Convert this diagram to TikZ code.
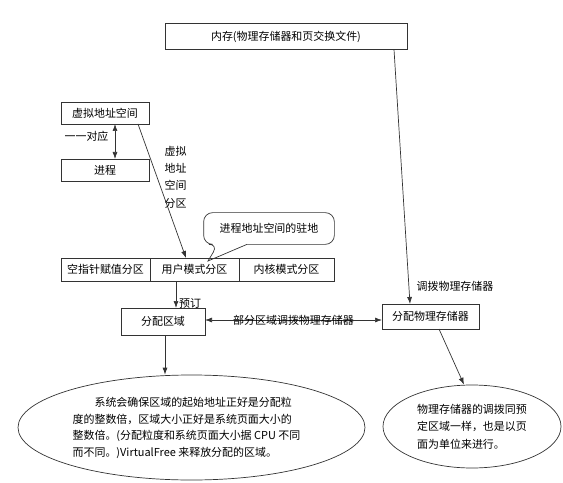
\documentclass[tikz,border=0pt]{standalone}
\usepackage{fontspec}
\setmainfont{Noto Sans CJK SC}
\usetikzlibrary{arrows.meta,shapes.geometric}
\begin{document}
\begin{tikzpicture}[x=1bp,y=-1bp,line width=.7pt,draw=black!80,
  font=\fontsize{11}{13}\selectfont,
  >={Latex[length=7bp,width=5bp]},
  box/.style={draw,outer sep=0pt,inner sep=0pt,minimum height=23bp},
  oval/.style={draw,ellipse,inner sep=0pt,align=left}]
  \useasboundingbox (0,0) rectangle (563,483);
  % boxes
  \node[box,minimum width=242bp,minimum height=26bp] (mem) at (286,36.5) {内存(物理存储器和页交换文件)};
  \node[box,minimum width=88bp,minimum height=22bp] (vas) at (105,113) {虚拟地址空间};
  \node[box,minimum width=88bp,minimum height=22bp] (proc) at (105,170) {进程};
  \node[box,minimum width=89bp] (nullp) at (105.5,269.5) {空指针赋值分区};
  \node[box,minimum width=89bp,anchor=west] (user) at (nullp.east) {用户模式分区};
  \node[box,minimum width=95bp,anchor=west] (kern) at (user.east) {内核模式分区};
  \node[box,minimum width=84bp,minimum height=27bp] (alloc) at (163,321.5) {分配区域};
  \node[box,minimum width=97bp,minimum height=25bp] (phys) at (430.5,316.5) {分配物理存储器};
  % notes
  \node[oval,minimum width=347bp,minimum height=105bp] (note1) at (191.5,427.5) {};
  \node[align=left,font=\fontsize{11}{16.7}\selectfont] (note1txt) at (186.5,428)
    {\hspace*{2em}系统会确保区域的起始地址正好是分配粒\\
     度的整数倍，区域大小正好是系统页面大小的\\
     整数倍。(分配粒度和系统页面大小据 CPU 不同\\
     而不同。)VirtualFree 来释放分配的区域。};
  \node[oval,minimum width=178bp,minimum height=83bp,font=\fontsize{11}{17.5}\selectfont] (note2) at (472,426.5)
    {物理存储器的调拨同预\\定区域一样，也是以页\\面为单位来进行。};
  % callout
  \node[minimum width=130bp,minimum height=31bp] (home) at (269,228.5) {进程地址空间的驻地};
  \coordinate (tip) at (208,261);
  \draw[rounded corners=9bp] ([xshift=-22bp]home.south) -- (home.south east) -- (home.north east)
    -- (home.north west) -- (home.south west) -- ([xshift=-51bp]home.south) [sharp corners] -- (tip) -- cycle;
  % connectors
  \draw[<->] ([xshift=10bp]vas.south) -- ([xshift=10bp]proc.north);
  \draw[->] ([xshift=-11bp]vas.south east) -- ([xshift=-8.5bp]user.north);
  \draw[->] ([xshift=-18.5bp]user.south) -- ([xshift=-18.5bp]user.south |- alloc.north);
  \draw[->] ([xshift=108bp]mem.south) -- ([xshift=-20.5bp]phys.north);
  \draw[<->] ([yshift=1.5bp]alloc.east) -- ([yshift=1.5bp]alloc.east -| phys.west)
    node[midway,inner sep=0pt] (part) {部分区域调拨物理存储器};
  \draw[->] ([xshift=2bp]alloc.south) -- ([xshift=2bp]alloc.south |- note1.north);
  \draw[->] ([xshift=8.5bp]phys.south) -- ([xshift=-8bp]note2.north);
  % labels
  \path (86.5,136) node (one) {一一对应};
  \path (175.5,177) node[align=center,font=\fontsize{11}{17.3}\selectfont] (vert) {虚拟\\地址\\空间\\分区};
  \path (190,303) node (book) {预订};
  \path (455,286) node (commit) {调拨物理存储器};
\end{tikzpicture}
\end{document}
